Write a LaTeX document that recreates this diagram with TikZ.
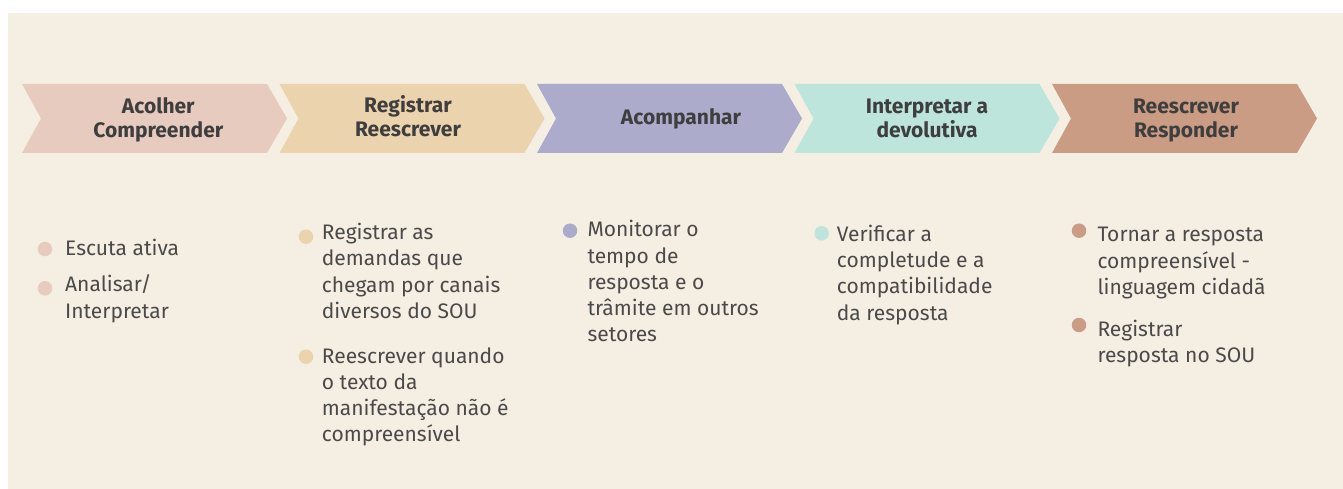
\documentclass[tikz,border=0pt]{standalone}
\usepackage{fontspec}
\setmainfont{Fira Sans}
\definecolor{bg}{HTML}{F5EEE2}
\definecolor{cA}{HTML}{E7CBBE}
\definecolor{cB}{HTML}{EBD3AE}
\definecolor{cC}{HTML}{ADABCB}
\definecolor{cD}{HTML}{BDE5DC}
\definecolor{cE}{HTML}{C99C83}
\definecolor{txtgray}{HTML}{4A4A4A}
\definecolor{ttlgray}{HTML}{3E3E3E}
\newcommand\mychevron[2]{\fill[#2] (#1,84) -- ++(245,0) -- ++(20,34.5) -- ++(-20,34.5) -- ++(-245,0) -- ++(19,-34.5) -- cycle;}
\begin{document}
\begin{tikzpicture}[x=1pt,y=-1pt,
  txt/.style={font=\fontsize{21}{26.2}\selectfont, text=txtgray, align=left, anchor=base west, inner sep=0pt},
  ttl/.style={font=\fontsize{21}{24}\selectfont\bfseries, text=ttlgray, align=center, anchor=base, inner sep=0pt},
  dot/.style={circle, minimum size=14.5pt, inner sep=0pt}]
\useasboundingbox (0,0) rectangle (1343,489);
\fill[white] (0,0) rectangle (1343,489);
\fill[bg] (8,13) rectangle (1343,489);
\mychevron{22}{cA}
\mychevron{279.5}{cB}
\mychevron{537}{cC}
\mychevron{794.5}{cD}
\mychevron{1052}{cE}
% titles (anchor at baseline of last line)
\node[ttl] (t1) at (158.3,137.3) {Acolher\\Compreender};
\node[ttl] (t2) at (408,137) {Registrar\\Reescrever};
\node[ttl] (t3) at (681,125) {Acompanhar};
\node[ttl] (t4) at (927,137.3) {Interpretar a\\devolutiva};
\node[ttl] (t5) at (1186,137.3) {Reescrever\\Responder};
% column 1
\node[dot, fill=cA] (d1a) at (45,249) {};
\node[txt] (b1a) at (65,255) {Escuta ativa};
\node[dot, fill=cA] (d1b) at (45,288.3) {};
\node[txt] (b1b) at (65,318) {Analisar/\\Interpretar};
% column 2
\node[dot, fill=cB] (d2a) at (306,236.7) {};
\node[txt] (b2a) at (321.7,318.3) {Registrar as\\demandas que\\chegam por canais\\diversos do SOU};
\node[dot, fill=cB] (d2b) at (306,356.7) {};
\node[txt] (b2b) at (321.7,441.7) {Reescrever quando\\o texto da\\manifestação não é\\compreensível};
% column 3
\node[dot, fill=cC] (d3a) at (570,230.7) {};
\node[txt] (b3a) at (587.3,341.7) {Monitorar o\\tempo de\\resposta e o\\trâmite em outros\\setores};
% column 4
\node[dot, fill=cD] (d4a) at (821.7,233.3) {};
\node[txt] (b4a) at (836.7,320) {Verificar a\\completude e a\\compatibilidade\\da resposta};
% column 5
\node[dot, fill=cE] (d5a) at (1079,230.7) {};
\node[txt] (b5a) at (1097.3,294.3) {Tornar a resposta\\compreensível -\\linguagem cidadã};
\node[dot, fill=cE] (d5b) at (1079,325) {};
\node[txt] (b5b) at (1097.3,362.3) {Registrar\\resposta no SOU};
\end{tikzpicture}
\end{document}
